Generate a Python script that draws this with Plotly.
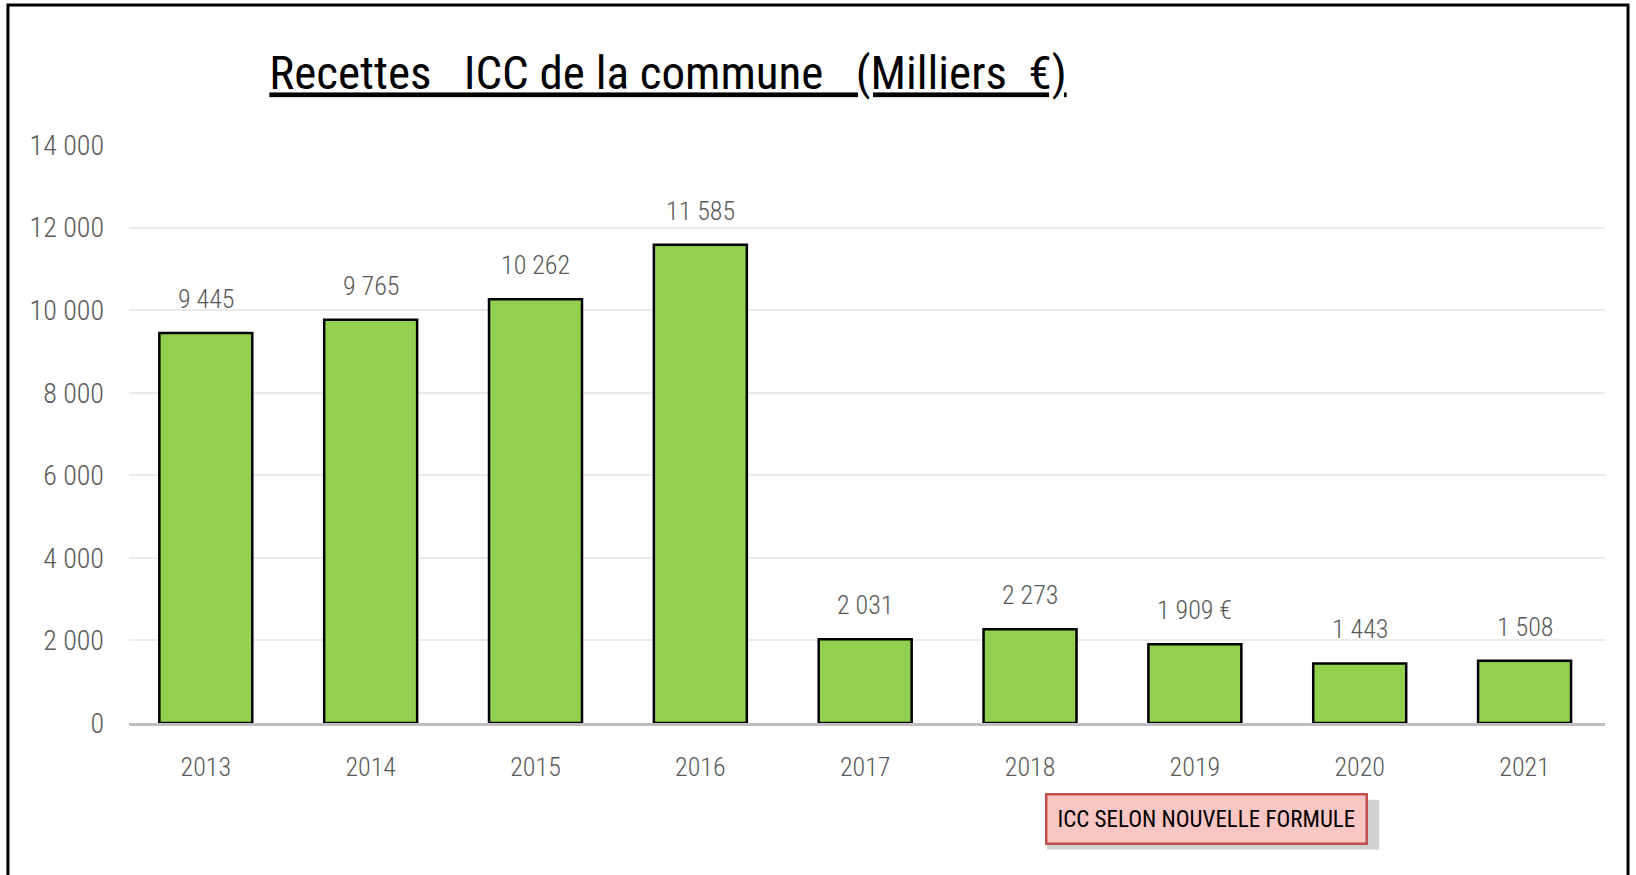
import plotly.graph_objects as go

years = ["2013", "2014", "2015", "2016", "2017", "2018", "2019", "2020", "2021"]
recettes = [9445, 9765, 10262, 11585, 2031, 2273, 1909, 1443, 1508]
labels = ["9 445", "9 765", "10 262", "11 585", "2 031", "2 273", "1 909 €", "1 443", "1 508"]
y_ticks = [0, 2000, 4000, 6000, 8000, 10000, 12000, 14000]
y_tick_text = ["0", "2 000", "4 000", "6 000", "8 000", "10 000", "12 000", "14 000"]

cond = "Roboto Condensed, Roboto, sans-serif"

fig = go.Figure(go.Bar(
    x=years, y=recettes,
    marker=dict(color="#92D050", line=dict(color="black", width=2.5)),
    width=0.564,
))

# value labels above the bars (x given as category index, numeric strings confuse annotations)
for i, (v, t) in enumerate(zip(recettes, labels)):
    fig.add_annotation(x=i, y=v, text=t, showarrow=False, yshift=34,
                       font=dict(family=cond, size=26, color="#595959", weight=300))

fig.update_layout(
    width=1636, height=875,
    margin=dict(l=129, r=31, t=145, b=152),
    plot_bgcolor="white", paper_bgcolor="white",
    showlegend=False,
    title=dict(text="<u>Recettes   ICC de la commune   (Milliers  €)</u>",
               x=668 / 1636, xanchor="center", y=1 - 73 / 875, yanchor="middle",
               font=dict(family=cond, size=47, color="black")),
)
fig.update_xaxes(type="category", range=[-0.466, 8.488], showgrid=False, showline=True,
                 linecolor="#BFBFBF", linewidth=3, ticks="", ticklabelstandoff=19,
                 tickfont=dict(family=cond, size=26, color="#595959", weight=300))
fig.update_yaxes(range=[0, 14000], tickvals=y_ticks, ticktext=y_tick_text,
                 showgrid=True, gridcolor="#EBEBEB", gridwidth=2, zeroline=False,
                 ticklabelstandoff=24, showline=False,
                 tickfont=dict(family=cond, size=28, color="#595959", weight=300))

# outer frame
fig.add_shape(type="rect", xref="paper", yref="paper",
              x0=-0.082, x1=1.0156, y0=-0.35, y1=1.242,
              line=dict(color="black", width=3), fillcolor="rgba(0,0,0,0)")

# note box with soft shadow
fig.add_shape(type="rect", xref="paper", yref="paper",
              x0=0.622, x1=0.847, y0=-0.219, y1=-0.133,
              line=dict(width=0), fillcolor="rgba(0,0,0,0.18)", layer="below")
fig.add_annotation(xref="paper", yref="paper", x=0.730, y=-0.166,
                   xanchor="center", yanchor="middle",
                   text="ICC SELON NOUVELLE FORMULE", showarrow=False,
                   font=dict(family=cond, size=23, color="black"),
                   bgcolor="#F9C6C4", bordercolor="#C0504D", borderwidth=2.5,
                   borderpad=10)

fig.write_html("out.html", config={"displayModeBar": False},
               post_script="document.body.style.margin='0';")
